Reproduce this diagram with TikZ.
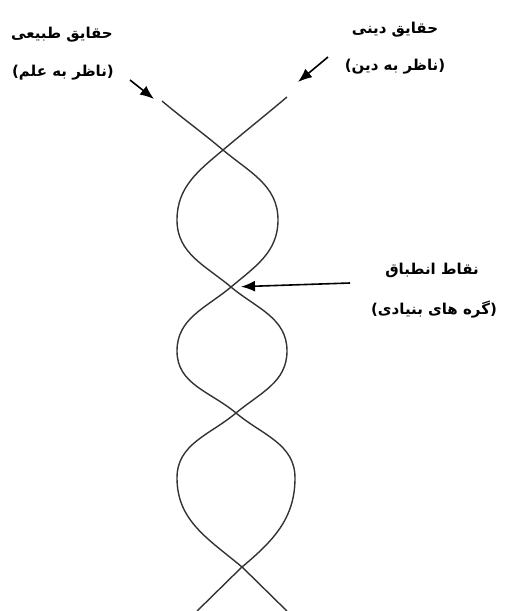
\documentclass[tikz,border=0pt]{standalone}
\usepackage{fontspec}
\newfontfamily\arabicfont[Script=Arabic]{DejaVu Sans}
\TeXXeTstate=1
\usetikzlibrary{arrows.meta}

\begin{document}
\begin{tikzpicture}[x=1pt,y=1pt,
    strand/.style={line width=1.4pt,black!80},
    pointer/.style={-{Latex[length=14pt,width=11pt]},line width=1.6pt},
    label/.style={font=\arabicfont\bfseries\fontsize{15}{17}\selectfont,inner sep=0pt}]
    \useasboundingbox (0,0) rectangle (504,-611);

    % crossings and turning points
    \coordinate (A0) at (162,-101);
    \coordinate (B0) at (287,-97);
    \coordinate (C1) at (223,-150);
    \coordinate (L1) at (177,-220);
    \coordinate (R1) at (278,-220);
    \coordinate (C2) at (231,-287);
    \coordinate (L2) at (177,-351);
    \coordinate (R2) at (287,-351);
    \coordinate (C3) at (236,-413);
    \coordinate (L3) at (177,-478);
    \coordinate (R3) at (295,-478);
    \coordinate (C4) at (242,-567);
    \coordinate (A5) at (197,-611);
    \coordinate (B5) at (287,-611);

    \node[label] (nature) at (62,-35) {\beginR حقایق طبیعی\endR};
    \node[label] (science) at (63,-73) {\beginR (ناظر به علم)\endR};
    \node[label] (religion) at (395,-30) {\beginR حقایق دینی\endR};
    \node[label] (faith) at (395,-67) {\beginR (ناظر به دین)\endR};
    \node[label] (match) at (432,-270) {\beginR نقاط انطباق\endR};
    \node[label] (knots) at (434,-310) {\beginR (گره های بنیادی)\endR};

    \draw[strand] (A0) to[out=-40,in=140] (C1) to[out=-40,in=90] (R1)
        to[out=-90,in=40] (C2) to[out=-140,in=90] (L2)
        to[out=-90,in=140] (C3) to[out=-40,in=90] (R3)
        to[out=-90,in=40] (C4) to[out=-136,in=44] (A5);
    \draw[strand] (B0) to[out=-140,in=40] (C1) to[out=-140,in=90] (L1)
        to[out=-90,in=140] (C2) to[out=-40,in=90] (R2)
        to[out=-90,in=40] (C3) to[out=-140,in=90] (L3)
        to[out=-90,in=140] (C4) to[out=-44,in=136] (B5);

    \coordinate (tailL) at (130,-80);
    \coordinate (headL) at (154,-99);
    \coordinate (tailR) at (328,-57);
    \coordinate (headR) at (298,-82);
    \coordinate (tailM) at (350,-283);

    \draw[pointer] (tailL) -- (headL);
    \draw[pointer] (tailR) -- (headR);
    \draw[pointer,shorten >=10pt] (tailM) -- (C2);
\end{tikzpicture}
\end{document}
